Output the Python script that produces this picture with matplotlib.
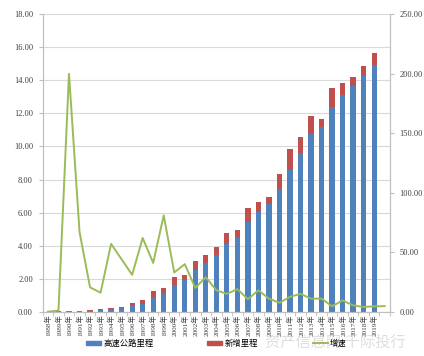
import numpy as np
import matplotlib
matplotlib.use("Agg")
import matplotlib.pyplot as plt
from matplotlib.patches import Patch
from matplotlib.lines import Line2D

years = [f"{y}年" for y in range(1988, 2020)] + [""]

# 高速公路里程 (万公里)
mileage = [0.01, 0.03, 0.05, 0.06, 0.07, 0.11, 0.16, 0.21, 0.34, 0.48,
           0.89, 1.15, 1.61, 1.93, 2.54, 2.94, 3.41, 4.09, 4.50, 5.40,
           6.03, 6.51, 7.42, 8.60, 9.59, 10.75, 11.18, 12.37, 13.10, 13.64,
           14.27, 14.93, 0.0]
# 新增里程 (万公里)
added = [0.00, 0.02, 0.02, 0.01, 0.01, 0.05, 0.07, 0.10, 0.18, 0.20,
         0.38, 0.30, 0.48, 0.31, 0.54, 0.47, 0.48, 0.67, 0.46, 0.85,
         0.62, 0.46, 0.89, 1.25, 0.99, 1.10, 0.48, 1.15, 0.74, 0.55,
         0.62, 0.75, 0.0]
# 增速 (%)
growth = [0, 1, 200, 67, 20.5, 16, 57, 44, 31, 62,
          41, 81, 33, 40, 20, 29, 18, 15, 19, 10.5,
          18, 11, 7.5, 12.5, 15, 11, 11, 4.5, 9.5, 5.3,
          4, 4.5, 4.7]

BLUE = "#4F81BD"
RED = "#C0504D"
GREEN = "#9BBB59"
SERIF = ["Liberation Serif", "Noto Sans CJK SC"]
CJK = ["Noto Sans CJK SC", "DejaVu Sans"]

fig = plt.figure(figsize=(4.24, 3.56), dpi=100)
ax = fig.add_axes([0.1007, 0.1244, 0.819, 0.8354])
x = np.arange(len(years))

ax.bar(x, mileage, width=0.5, color=BLUE, zorder=2)
ax.bar(x, added, width=0.5, bottom=mileage, color=RED, zorder=2)
ax.set_xlim(-0.5, len(years) - 0.5)
ax.set_ylim(0, 18)
ax.set_yticks(np.arange(0, 19, 2))
ax.set_yticklabels([f"{v:.2f}" for v in np.arange(0, 19, 2)], family=SERIF, fontsize=6, color="#404040")
ax.grid(axis="y", color="#d9d9d9", linewidth=0.8, zorder=0)
ax.set_axisbelow(True)

ax.set_xticks(x)
ax.set_xticklabels(years, rotation=90, family=SERIF, fontsize=5.2, color="#404040")
ax.set_xticks(np.arange(-0.5, len(years), 1), minor=True)
ax.tick_params(axis="x", which="major", length=0, pad=2)
ax.tick_params(axis="x", which="minor", length=3, color="#bfbfbf")
ax.tick_params(axis="y", length=3, color="#bfbfbf", pad=4)

ax.spines["top"].set_visible(False)
for s in ["left", "bottom", "right"]:
    ax.spines[s].set_color("#bfbfbf")

ax2 = ax.twinx()
ax2.plot(x, growth, color=GREEN, linewidth=1.4, zorder=3)
ax2.set_ylim(0, 250)
ax2.set_yticks(np.arange(0, 251, 50))
ax2.set_yticklabels([f"{v:.2f}" for v in np.arange(0, 251, 50)], family=SERIF, fontsize=6, color="#404040")
ax2.tick_params(axis="y", length=3, color="#bfbfbf", pad=4)
ax2.spines["top"].set_visible(False)
for s in ["left", "bottom", "right"]:
    ax2.spines[s].set_color("#bfbfbf")

handles = [Patch(color=BLUE), Patch(color=RED), Line2D([], [], color=GREEN, linewidth=1.4)]
fig.legend(handles, ["高速公路里程", "新增里程", "增速"], loc="center",
           bbox_to_anchor=(0.51, 0.035), ncol=3, frameon=False,
           prop={"family": CJK, "size": 6}, handlelength=1.8, handleheight=0.5,
           handletextpad=0.3, columnspacing=6.5)

# watermark
fig.text(0.79, 0.038, "资产信息网 千际投行", family=CJK, fontsize=11,
         color="#c8c8c8", alpha=0.6, ha="center", va="center")

fig.savefig("out.png", dpi=100)
